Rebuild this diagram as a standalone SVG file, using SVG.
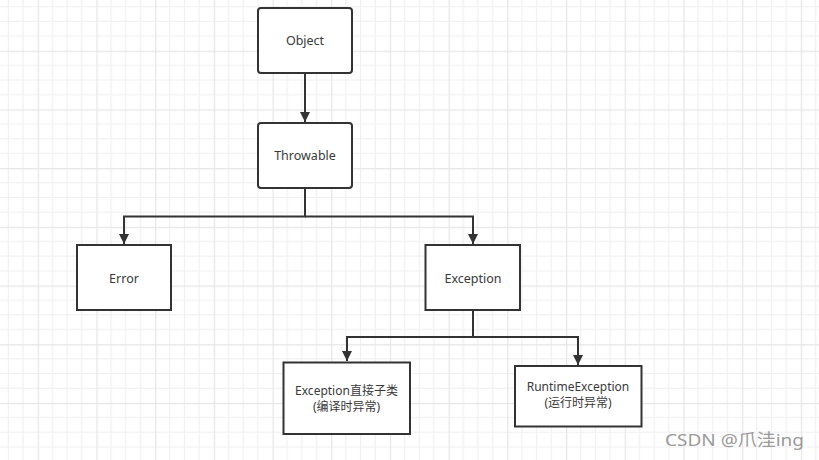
<svg xmlns="http://www.w3.org/2000/svg" width="819" height="460" viewBox="0 0 819 460">
<defs>
<pattern id="grid" patternUnits="userSpaceOnUse" x="37.7" y="50.7" width="58.7" height="58.7">
<path d="M14.67 0V58.7M29.35 0V58.7M44.02 0V58.7M0 14.67H58.7M0 29.35H58.7M0 44.02H58.7" stroke="#f0f0f0" stroke-width="1.2" fill="none"/>
<path d="M0.5 0V58.7M0 0.5H58.7" stroke="#e6e6e6" stroke-width="1.4" fill="none"/>
</pattern>
<marker id="arr" viewBox="0 0 10 10" refX="10" refY="5" markerWidth="5" markerHeight="5" orient="auto" markerUnits="strokeWidth">
<path d="M0 0L10 5L0 10z" fill="#333"/>
</marker>
</defs>
<style>
.box{fill:#fff;stroke:#333;stroke-width:2}
.t{font-family:"Microsoft YaHei","Noto Sans","Noto Sans CJK SC",sans-serif;font-size:12.5px;fill:#3a3a3a;text-anchor:middle;dominant-baseline:central}
.s{font-size:12px}
.c{fill:none;stroke:#333;stroke-width:2}
</style>
<rect width="819" height="460" fill="#fff"/>
<rect width="819" height="460" fill="url(#grid)"/>
<g id="connectors">
<path class="c" d="M305 73V122" marker-end="url(#arr)"/>
<path class="c" d="M305 188V216.5H124V244" marker-end="url(#arr)"/>
<path class="c" d="M305 216.5H473V244" marker-end="url(#arr)"/>
<path class="c" d="M473 310V337H347V361" marker-end="url(#arr)"/>
<path class="c" d="M473 337H578V365" marker-end="url(#arr)"/>
</g>
<g id="object">
<rect class="box" x="258" y="8" width="94" height="65" rx="3"/>
<text class="t" x="305" y="40.5">Object</text>
</g>
<g id="throwable">
<rect class="box" x="258" y="123" width="94" height="65" rx="3"/>
<text class="t" x="305" y="155.5">Throwable</text>
</g>
<g id="error">
<rect class="box" x="77" y="245" width="94" height="65"/>
<text class="t" x="124" y="278">Error</text>
</g>
<g id="exception">
<rect class="box" x="425.5" y="245" width="94.5" height="65"/>
<text class="t" x="473" y="278">Exception</text>
</g>
<g id="checked">
<rect class="box" x="283.5" y="362.5" width="126.5" height="71.5"/>
<text class="t s" x="346.5" y="390.5">Exception直接子类</text>
<text class="t s" x="346.5" y="406.5">(编译时异常)</text>
</g>
<g id="runtime">
<rect class="box" x="515" y="366" width="126.5" height="60.5"/>
<text class="t s" x="578" y="386.5">RuntimeException</text>
<text class="t s" x="578" y="402.5">(运行时异常)</text>
</g>
<text x="665" y="446" font-family="Microsoft YaHei,'Noto Sans','Noto Sans CJK SC',sans-serif" font-size="17" fill="#9a9a9a" textLength="139" lengthAdjust="spacingAndGlyphs">CSDN @爪洼ing</text>
</svg>
